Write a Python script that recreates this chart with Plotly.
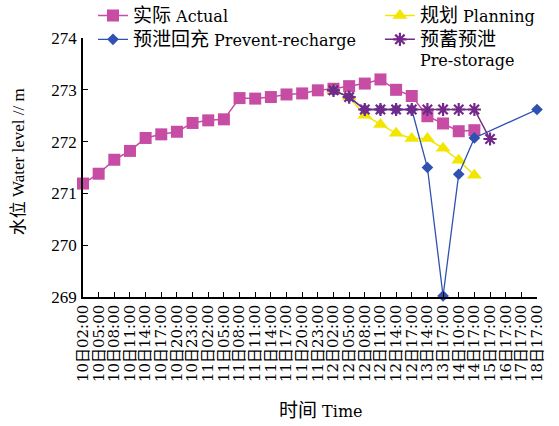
import plotly.graph_objects as go

categories = [
    "10日02:00", "10日05:00", "10日08:00", "10日11:00", "10日14:00", "10日17:00", "10日20:00", "10日23:00",
    "11日02:00", "11日05:00", "11日08:00", "11日11:00", "11日14:00", "11日17:00", "11日20:00", "11日23:00",
    "12日02:00", "12日05:00", "12日08:00", "12日11:00", "12日14:00", "12日17:00",
    "13日14:00", "13日17:00", "14日10:00", "14日17:00",
    "15日17:00", "16日17:00", "17日17:00", "18日17:00",
]

actual = [271.19, 271.38, 271.65, 271.82, 272.07, 272.14, 272.19, 272.36, 272.41, 272.43,
          272.84, 272.83, 272.86, 272.91, 272.93, 272.99, 273.02, 273.07, 273.12, 273.20,
          273.00, 272.88, 272.49, 272.35, 272.20, 272.22]

planning = [None] * 16 + [273.00, 272.86, 272.51, 272.33, 272.16, 272.06, 272.06, 271.87, 271.64, 271.35]

prevent_recharge = [None] * 16 + [272.99, 272.86, 272.62, 272.62, 272.62, 272.62, 271.50, 269.02,
                                  271.37, 272.07, None, None, None, 272.62]

pre_storage = [None] * 16 + [272.99, 272.86, 272.62, 272.62, 272.62, 272.62, 272.62, 272.62,
                             272.62, 272.62, 272.05]

y_ticks = [269, 270, 271, 272, 273, 274]

NUM_FONT = "Liberation Serif, Noto Sans CJK SC, serif"
TXT_FONT = "DejaVu Serif, Noto Sans CJK SC, serif"

c_actual = "#C64CA4"
c_plan = "#F2E600"
c_blue = "#2F52B2"
c_purple = "#74288A"


def cjk(s):
    return '<span style="font-size:19px">' + s + '</span>'


fig = go.Figure()
fig.add_trace(go.Scatter(
    x=categories[:len(actual)], y=actual, name=cjk("实际") + " Actual", mode="lines+markers",
    line=dict(color=c_actual, width=1.5),
    marker=dict(symbol="square", size=12, color=c_actual),
    legend="legend", cliponaxis=False))
fig.add_trace(go.Scatter(
    x=categories, y=planning, name=cjk("规划") + " Planning", mode="lines+markers",
    line=dict(color=c_plan, width=1.5),
    marker=dict(symbol="triangle-up", size=13, color=c_plan),
    legend="legend2", cliponaxis=False))
fig.add_trace(go.Scatter(
    x=categories, y=prevent_recharge, name=cjk("预泄回充") + " Prevent-recharge", mode="lines+markers",
    line=dict(color=c_blue, width=1.3), connectgaps=True,
    marker=dict(symbol="diamond", size=9, color=c_blue),
    legend="legend", cliponaxis=False))
fig.add_trace(go.Scatter(
    x=categories, y=pre_storage, name=cjk("预蓄预泄") + "<br>Pre-storage", mode="lines+markers",
    line=dict(color=c_purple, width=1.5),
    marker=dict(symbol="asterisk-open", size=11, color=c_purple,
                line=dict(color=c_purple, width=2.2)),
    legend="legend2", cliponaxis=False))

fig.update_layout(
    width=559, height=426,
    margin=dict(l=83, r=22, t=38, b=129, autoexpand=False),
    plot_bgcolor="white", paper_bgcolor="white",
    font=dict(family=NUM_FONT, size=16, color="black"),
    legend=dict(x=0.022, y=1.152, xanchor="left", yanchor="top", bgcolor="rgba(0,0,0,0)",
                font=dict(family=TXT_FONT, size=16), valign="top", tracegroupgap=0),
    legend2=dict(x=0.654, y=1.152, xanchor="left", yanchor="top", bgcolor="rgba(0,0,0,0)",
                 font=dict(family=TXT_FONT, size=16), valign="top", tracegroupgap=0),
    xaxis=dict(
        type="category", categoryorder="array", categoryarray=categories,
        tickmode="array", tickvals=categories, ticktext=categories,
        range=[0, 29], showgrid=False, zeroline=False, automargin=False,
        showline=True, linecolor="black", linewidth=1.5,
        ticks="inside", ticklen=5, tickcolor="black", tickwidth=1.2,
        tickangle=-90, tickfont=dict(family=TXT_FONT, size=15),
    ),
    yaxis=dict(
        range=[269, 274], tickvals=y_ticks, showgrid=False, zeroline=False, automargin=False,
        showline=True, linecolor="black", linewidth=1.5,
        ticks="inside", ticklen=5, tickcolor="black", tickwidth=1.2,
        tickfont=dict(size=17), ticklabelstandoff=1,
    ),
    annotations=[
        dict(text=cjk("时间") + " Time", xref="paper", yref="paper", x=0.524, y=-0.436,
             xanchor="center", yanchor="middle", showarrow=False,
             font=dict(family=TXT_FONT, size=16)),
        dict(text="水位 Water level // m", xref="paper", yref="paper", x=-0.143, y=0.521,
             xanchor="center", yanchor="middle", showarrow=False, textangle=-90,
             font=dict(family=NUM_FONT, size=17)),
    ],
)

fig.write_html("out.html", config={"displayModeBar": False},
               post_script="document.body.style.margin='0px';")
